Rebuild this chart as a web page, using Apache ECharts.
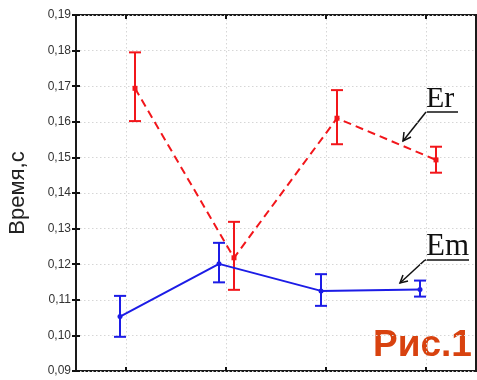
<!DOCTYPE html>
<html><head><meta charset="utf-8">
<script src="https://cdn.jsdelivr.net/npm/echarts@6/dist/echarts.min.js"></script>
<style>html,body{margin:0;padding:0;background:#fff}#c{width:477px;height:380px}</style>
</head><body><div id="c"></div>
<script>
// x positions (category units, ticks at 0.5,1.5,2.5,3.5)
const tickPositions = [0.5, 1.5, 2.5, 3.5];
const erX = [0.59, 1.58, 2.61, 3.60];
const erMean = [0.1694, 0.1218, 0.1610, 0.1493];
const erLow  = [0.1602, 0.1128, 0.1537, 0.1457];
const erHigh = [0.1795, 0.1319, 0.1689, 0.1530];
const emX = [0.44, 1.43, 2.45, 3.44];
const emMean = [0.1053, 0.1201, 0.1125, 0.1129];
const emLow  = [0.0996, 0.1149, 0.1083, 0.1109];
const emHigh = [0.1111, 0.1260, 0.1172, 0.1154];

const RED = '#f2161b', BLUE = '#1c1ce6';
function pts(xs, ys){ return xs.map((x,i)=>[x, ys[i]]); }
function bars(xs, lo, hi){ return xs.map((x,i)=>[x, lo[i], hi[i]]); }
function errRender(color){
  return function(params, api){
    const x = api.value(0);
    const p1 = api.coord([x, api.value(1)]);
    const p2 = api.coord([x, api.value(2)]);
    const w = 6;
    const st = {stroke: color, lineWidth: 2};
    return {type:'group', children:[
      {type:'line', shape:{x1:p1[0],y1:p1[1],x2:p2[0],y2:p2[1]}, style:st},
      {type:'line', shape:{x1:p1[0]-w,y1:p1[1],x2:p1[0]+w,y2:p1[1]}, style:st},
      {type:'line', shape:{x1:p2[0]-w,y1:p2[1],x2:p2[0]+w,y2:p2[1]}, style:st}
    ]};
  };
}
const chart = echarts.init(document.getElementById('c'), null, {renderer:'canvas'});
const grid = {left:76, right:1, top:15, bottom:9, show:true, borderColor:'#1a1a1a', borderWidth:2,
  containLabel:false, outerBoundsMode:'none'};
const xBase = {type:'value', min:0, max:4, axisLabel:{show:false}, axisLine:{show:false}};
const yBase = {type:'value', min:0.09, max:0.19, interval:0.01, axisLine:{show:false}};
const gridLine = {show:true, lineStyle:{color:'#d6d6d6', type:[1.5,2.5], width:1}};
chart.setOption({
  animation:false,
  grid: grid,
  xAxis: [
    Object.assign({}, xBase, {position:'bottom',
      axisTick:{show:true, inside:true, length:4, customValues:tickPositions, lineStyle:{color:'#111', width:2}},
      splitLine:gridLine}),
    Object.assign({}, xBase, {position:'top',
      axisTick:{show:true, inside:true, length:4, customValues:tickPositions, lineStyle:{color:'#111', width:2}},
      splitLine:{show:false}})
  ],
  yAxis: [
    Object.assign({}, yBase, {position:'left',
      axisTick:{show:true, inside:true, length:4, lineStyle:{color:'#111', width:2}},
      axisLabel:{color:'#333', fontSize:12, fontFamily:'Liberation Sans, Arial, sans-serif', margin:5,
        formatter: v => v.toFixed(2).replace('.', ',')},
      splitLine:gridLine,
      name:'Время,с', nameLocation:'middle', nameGap:47, nameRotate:90,
      nameTextStyle:{fontSize:22, color:'#222', fontFamily:'Liberation Sans, Arial, sans-serif'}}),
    Object.assign({}, yBase, {position:'right',
      axisTick:{show:true, inside:true, length:4, lineStyle:{color:'#111', width:2}},
      axisLabel:{show:false}, splitLine:{show:false}})
  ],
  series: [
    {type:'line', data: pts(erX, erMean), z:3, symbol:'rect', symbolSize:5,
      lineStyle:{color:RED, width:2, type:[8,5]}, itemStyle:{color:RED}},
    {type:'custom', data: bars(erX, erLow, erHigh), renderItem: errRender(RED), z:3, encode:{x:0, y:[1,2]}},
    {type:'line', data: pts(emX, emMean), z:4, symbol:'circle', symbolSize:5,
      lineStyle:{color:BLUE, width:2}, itemStyle:{color:BLUE}},
    {type:'custom', data: bars(emX, emLow, emHigh), renderItem: errRender(BLUE), z:4, encode:{x:0, y:[1,2]}}
  ],
  graphic: [
    {type:'text', left:426, top:84, style:{text:'Er', font:'30px "Liberation Serif", "Times New Roman", serif', fill:'#111'}},
    {type:'line', shape:{x1:426,y1:112,x2:458,y2:112}, style:{stroke:'#111', lineWidth:1.5}},
    {type:'line', shape:{x1:426,y1:112,x2:403,y2:141}, style:{stroke:'#111', lineWidth:1.5}},
    {type:'polyline', shape:{points:[[404,132],[403,141],[411,137]]}, style:{stroke:'#111', lineWidth:1.5, fill:null}},
    {type:'text', left:426, top:231, style:{text:'Em', font:'31px "Liberation Serif", "Times New Roman", serif', fill:'#111'}},
    {type:'line', shape:{x1:425,y1:260,x2:469,y2:260}, style:{stroke:'#111', lineWidth:1.5}},
    {type:'line', shape:{x1:425,y1:260,x2:400,y2:283}, style:{stroke:'#111', lineWidth:1.5}},
    {type:'polyline', shape:{points:[[403,275],[400,283],[408,281]]}, style:{stroke:'#111', lineWidth:1.5, fill:null}},
    {type:'text', left:373, top:327, style:{text:'Рис.1', font:'bold 37px "Liberation Sans", Arial, sans-serif', fill:'#d8420f'}}
  ]
});
</script></body></html>
